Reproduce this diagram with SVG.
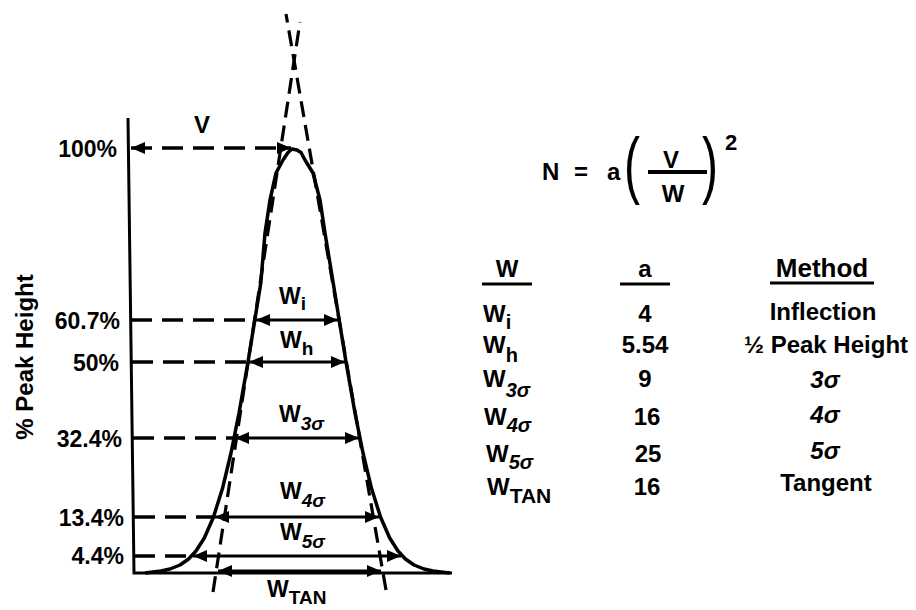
<svg xmlns="http://www.w3.org/2000/svg" width="916" height="610" viewBox="0 0 916 610">
<defs>
<marker id="ah" markerUnits="userSpaceOnUse" markerWidth="14" markerHeight="12" refX="14" refY="6" orient="auto-start-reverse">
<path d="M0,0 L14,6 L0,12 z" fill="#000"/>
</marker>
<style>
.t{font-family:"Liberation Sans",Arial,Helvetica,sans-serif;font-weight:bold;fill:#000}
.ln{stroke:#000;fill:none;stroke-linecap:butt}
.dash{stroke:#000;fill:none;stroke-width:3.5;stroke-dasharray:21 10}
.tan{stroke:#000;fill:none;stroke-width:3.2;stroke-dasharray:16 8}
.arr{stroke:#000;fill:none;stroke-width:3.2;marker-start:url(#ah);marker-end:url(#ah)}
.ul{stroke:#000;stroke-width:3}
</style>
</defs>
<rect width="916" height="610" fill="#fff"/>

<g id="axes">
<path class="ln" d="M128,118 L134,573 L452,573" stroke-width="3"/>
</g>

<g id="peak">
<path class="ln" stroke-width="3.5" stroke-linejoin="round" d="M145,573 L153,572 L161,571 L170,569 L180,565 L188.6,559 L196,551 L204.3,538 L213.5,517 L222.6,488 L231,453 L239,413 L248,362 L254.8,320 L260.8,283 L265,233 L270,200 L276,173 L283,160 L288,152.5 L292,149 L297,150 L301,152.5 L305,160 L313,173 L320,200 L325,233 L333.2,283 L339.2,320 L346,362 L355,413 L363,453 L371.4,488 L380.5,517 L389.7,538 L398,551 L405.4,559 L414,565 L424,569 L433,571 L441,572 L450,573"/>
</g>

<g id="tangents">
<line class="tan" x1="213" y1="592" x2="300" y2="22"/>
<line class="tan" x1="386" y1="590" x2="286" y2="14"/>
</g>

<g id="connectors">
<line class="dash" x1="131" y1="148" x2="291" y2="148" style="marker-start:url(#ah);marker-end:url(#ah)"/>
<line class="dash" x1="131" y1="320" x2="256" y2="320"/>
<line class="arr" x1="256" y1="320" x2="338" y2="320"/>
<line class="dash" x1="132" y1="362" x2="249" y2="362"/>
<line class="arr" x1="249" y1="362" x2="345" y2="362"/>
<line class="dash" x1="133" y1="438" x2="235" y2="438"/>
<line class="arr" x1="235" y1="438" x2="359" y2="438"/>
<line class="dash" x1="134" y1="517" x2="215" y2="517"/>
<line class="arr" x1="215" y1="517" x2="379" y2="517"/>
<line class="dash" x1="134" y1="556" x2="193" y2="556"/>
<line class="arr" x1="193" y1="556" x2="401" y2="556"/>
<line class="arr" x1="218" y1="571" x2="381" y2="571"/>
</g>

<g id="axis-labels" class="t" font-size="23" text-anchor="end">
<text x="117" y="157">100%</text>
<text x="120" y="329">60.7%</text>
<text x="119" y="371">50%</text>
<text x="122" y="447">32.4%</text>
<text x="124" y="526">13.4%</text>
<text x="124" y="564">4.4%</text>
<text transform="translate(33,357) rotate(-90)" text-anchor="middle" font-size="24">% Peak Height</text>
</g>

<g id="width-labels" class="t" font-size="23">
<text x="202" y="133" text-anchor="middle" font-size="24">V</text>
<text x="279" y="304">W<tspan font-size="19" dy="6">i</tspan></text>
<text x="280" y="348">W<tspan font-size="19" dy="7">h</tspan></text>
<text x="279" y="422">W<tspan font-size="19" dy="8" font-style="italic">3σ</tspan></text>
<text x="280" y="499">W<tspan font-size="19" dy="8" font-style="italic">4σ</tspan></text>
<text x="280" y="540">W<tspan font-size="19" dy="8" font-style="italic">5σ</tspan></text>
<text x="267" y="597">W<tspan font-size="19" dy="7">TAN</tspan></text>
</g>

<g id="equation" class="t" font-size="24">
<text x="542" y="180">N</text>
<text x="581" y="180" text-anchor="middle">=</text>
<text x="607" y="180">a</text>
<text transform="translate(624,190) scale(1,1.55)" font-size="48" font-weight="normal">(</text>
<text x="671" y="168" text-anchor="middle">V</text>
<line x1="648" y1="172" x2="707" y2="172" stroke="#000" stroke-width="4"/>
<text x="673" y="202" text-anchor="middle">W</text>
<text transform="translate(702,190) scale(1,1.55)" font-size="48" font-weight="normal">)</text>
<text x="725" y="150" font-size="22">2</text>
</g>

<g id="table" class="t" font-size="24">
<text x="507" y="277" text-anchor="middle">W</text>
<line class="ul" x1="482" y1="284" x2="532" y2="284"/>
<text x="645" y="277" text-anchor="middle">a</text>
<line class="ul" x1="620" y1="284" x2="670" y2="284"/>
<text x="822" y="277" text-anchor="middle" font-size="26">Method</text>
<line class="ul" x1="770" y1="283" x2="874" y2="283"/>

<text x="483" y="322">W<tspan font-size="20" dy="7">i</tspan></text>
<text x="483" y="353">W<tspan font-size="20" dy="9">h</tspan></text>
<text x="483" y="387">W<tspan font-size="20" dy="10" font-style="italic">3σ</tspan></text>
<text x="484" y="425">W<tspan font-size="20" dy="7" font-style="italic">4σ</tspan></text>
<text x="486" y="462">W<tspan font-size="20" dy="7" font-style="italic">5σ</tspan></text>
<text x="487" y="495">W<tspan font-size="21" dy="8">TAN</tspan></text>

<g text-anchor="middle">
<text x="645" y="322">4</text>
<text x="645" y="353">5.54</text>
<text x="645" y="387">9</text>
<text x="647" y="425">16</text>
<text x="648" y="462">25</text>
<text x="647" y="495">16</text>
<text x="823" y="320">Inflection</text>
<text x="826" y="353">½ Peak Height</text>
<text x="825" y="388" font-style="italic">3σ</text>
<text x="825" y="423" font-style="italic">4σ</text>
<text x="825" y="459" font-style="italic">5σ</text>
<text x="826" y="491">Tangent</text>
</g>
</g>
</svg>
